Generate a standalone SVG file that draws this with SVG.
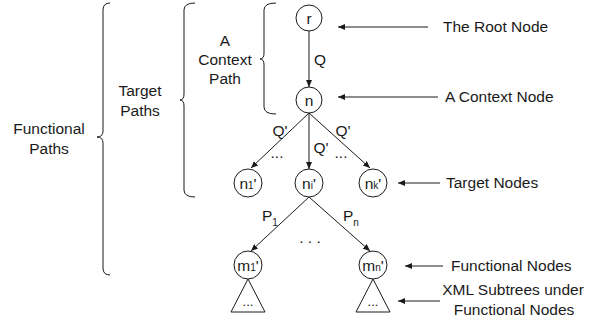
<svg xmlns="http://www.w3.org/2000/svg" width="602" height="322" viewBox="0 0 602 322">
  <style>
    text { font-family: "Liberation Sans", Arial, sans-serif; font-size: 15.5px; fill: #1a1a1a; }
    .mid { text-anchor: middle; }
    .sub { font-size: 10px; }
    .node { fill: #ffffff; stroke: #1a1a1a; stroke-width: 1; }
    .edge { fill: none; stroke: #1a1a1a; stroke-width: 1; }
    .brace { fill: none; stroke: #1a1a1a; stroke-width: 1; }
  </style>
  <defs>
    <marker id="arrow" markerWidth="7" markerHeight="6" refX="7" refY="3" orient="auto" markerUnits="userSpaceOnUse">
      <path d="M0,0 L7,3 L0,6 z" fill="#1a1a1a"/>
    </marker>
  </defs>

  <!-- braces and their labels -->
  <g id="functional-paths">
    <path class="brace" d="M110,3 Q103,3 103,10 L103,131 Q103,137 97,137 Q103,137 103,143 L103,268 Q103,275 110,275"/>
    <text class="mid" x="49" y="134">Functional</text>
    <text class="mid" x="49" y="154">Paths</text>
  </g>
  <g id="target-paths">
    <path class="brace" d="M195,3 Q184,3 184,10 L184,94 Q184,100 180,100 Q184,100 184,106 L184,190 Q184,197 195,197"/>
    <text class="mid" x="140" y="96">Target</text>
    <text class="mid" x="140" y="116">Paths</text>
  </g>
  <g id="context-path">
    <path class="brace" d="M276,3 Q264,3 264,10 L264,53 Q264,59 260,59 Q264,59 264,65 L264,107 Q264,114 276,114"/>
    <text class="mid" x="225" y="46">A</text>
    <text class="mid" x="225" y="65">Context</text>
    <text class="mid" x="225" y="84">Path</text>
  </g>

  <!-- connectors -->
  <g id="connectors">
    <line class="edge" x1="309" y1="31" x2="309" y2="87" marker-end="url(#arrow)"/>
    <line class="edge" x1="309" y1="113" x2="251" y2="168" marker-end="url(#arrow)"/>
    <line class="edge" x1="309" y1="113" x2="309" y2="169" marker-end="url(#arrow)"/>
    <line class="edge" x1="309" y1="113" x2="370" y2="168" marker-end="url(#arrow)"/>
    <line class="edge" x1="309" y1="197" x2="251" y2="251" marker-end="url(#arrow)"/>
    <line class="edge" x1="309" y1="197" x2="370" y2="251" marker-end="url(#arrow)"/>
    <!-- callout arrows -->
    <line class="edge" x1="428" y1="27" x2="338" y2="27" marker-end="url(#arrow)"/>
    <line class="edge" x1="438" y1="97" x2="338" y2="97" marker-end="url(#arrow)"/>
    <line class="edge" x1="440" y1="183" x2="398" y2="183" marker-end="url(#arrow)"/>
    <line class="edge" x1="443" y1="266" x2="405" y2="266" marker-end="url(#arrow)"/>
    <line class="edge" x1="440" y1="301" x2="398" y2="301" marker-end="url(#arrow)"/>
    <!-- edge labels -->
    <text class="mid" x="320" y="65">Q</text>
    <text class="mid" x="280" y="136">Q'</text>
    <text class="mid" x="321" y="153">Q'</text>
    <text class="mid" x="343" y="136">Q'</text>
    <text class="mid" x="277" y="158">...</text>
    <text class="mid" x="341" y="158">...</text>
    <text x="262" y="221">P<tspan class="sub" dy="5">1</tspan></text>
    <text x="343" y="221">P<tspan class="sub" dy="5">n</tspan></text>
    <text class="mid" x="310" y="243">. . .</text>
  </g>

  <!-- nodes -->
  <g id="node-r">
    <circle class="node" cx="309" cy="18" r="13"/>
    <text class="mid" x="309" y="24">r</text>
  </g>
  <g id="node-n">
    <circle class="node" cx="309" cy="100" r="13"/>
    <text class="mid" x="309" y="106">n</text>
  </g>
  <g id="node-n1">
    <circle class="node" cx="248" cy="183" r="14"/>
    <text class="mid" x="248" y="189">n<tspan class="sub">1</tspan>'</text>
  </g>
  <g id="node-ni">
    <circle class="node" cx="309" cy="183" r="14"/>
    <text class="mid" x="309" y="189">n<tspan class="sub">i</tspan>'</text>
  </g>
  <g id="node-nk">
    <circle class="node" cx="373" cy="183" r="14"/>
    <text class="mid" x="373" y="189">n<tspan class="sub">k</tspan>'</text>
  </g>
  <g id="node-m1">
    <circle class="node" cx="248" cy="265" r="14"/>
    <text class="mid" x="248" y="271">m<tspan class="sub">1</tspan>'</text>
  </g>
  <g id="node-mn">
    <circle class="node" cx="373" cy="265" r="14"/>
    <text class="mid" x="373" y="271">m<tspan class="sub">n</tspan>'</text>
  </g>
  <g id="subtree-m1">
    <path class="node" d="M248,279 L231,312 L265,312 Z"/>
    <text class="mid" x="248" y="306" style="font-size:13px">...</text>
  </g>
  <g id="subtree-mn">
    <path class="node" d="M373,279 L356,312 L390,312 Z"/>
    <text class="mid" x="373" y="306" style="font-size:13px">...</text>
  </g>

  <!-- callout labels -->
  <g id="label-root">
    <text x="443" y="32">The Root Node</text>
  </g>
  <g id="label-context">
    <text x="445" y="102">A Context Node</text>
  </g>
  <g id="label-target">
    <text x="446" y="188">Target Nodes</text>
  </g>
  <g id="label-functional">
    <text x="451" y="271">Functional Nodes</text>
  </g>
  <g id="label-subtrees">
    <text class="mid" x="513" y="295">XML Subtrees under</text>
    <text class="mid" x="514" y="315">Functional Nodes</text>
  </g>
</svg>
